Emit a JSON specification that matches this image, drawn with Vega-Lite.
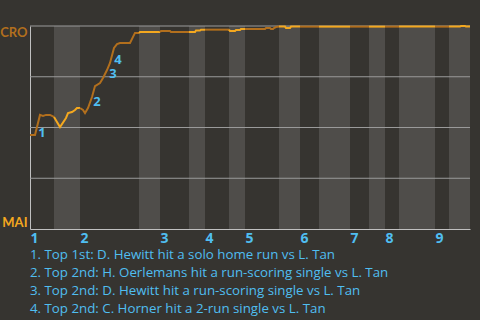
{
  "$schema": "https://vega.github.io/schema/vega-lite/v6.json",
  "width": 440,
  "height": 203,
  "autosize": {"type": "none"},
  "padding": {"left": 30, "top": 26, "right": 10, "bottom": 91},
  "background": "#363430",
  "config": {"view": {"stroke": null}, "font": "Lato"},
  "title": {
    "text": [
      "1. Top 1st: D. Hewitt hit a solo home run vs L. Tan",
      "2. Top 2nd: H. Oerlemans hit a run-scoring single vs L. Tan",
      "3. Top 2nd: D. Hewitt hit a run-scoring single vs L. Tan",
      "4. Top 2nd: C. Horner hit a 2-run single vs L. Tan"
    ],
    "orient": "bottom",
    "anchor": "start",
    "align": "left",
    "baseline": "top",
    "offset": 3,
    "frame": "group",
    "font": "Open Sans",
    "fontSize": 13.3,
    "fontWeight": "normal",
    "color": "#50bef0",
    "lineHeight": 18
  },
  "datasets": {
    "bands": [
      {"a": 24, "b": 50}, {"a": 109, "b": 130}, {"a": 159, "b": 175},
      {"a": 199, "b": 215}, {"a": 249, "b": 270}, {"a": 289, "b": 320},
      {"a": 339, "b": 355}, {"a": 369, "b": 405}, {"a": 419, "b": 440}
    ],
    "grid": [{"v": 0.25}, {"v": 0.5}, {"v": 0.75}, {"v": 1}],
    "wp": [
      {"s": "1T", "side": "top", "t": 0, "p": 0.463},
      {"s": "1T", "side": "top", "t": 5, "p": 0.463},
      {"s": "1T", "side": "top", "t": 10, "p": 0.562},
      {"s": "1T", "side": "top", "t": 13, "p": 0.557},
      {"s": "1T", "side": "top", "t": 16, "p": 0.562},
      {"s": "1T", "side": "top", "t": 20, "p": 0.562},
      {"s": "1T", "side": "top", "t": 24, "p": 0.552},
      {"s": "1B", "side": "bottom", "t": 24, "p": 0.552},
      {"s": "1B", "side": "bottom", "t": 30, "p": 0.502},
      {"s": "1B", "side": "bottom", "t": 36, "p": 0.547},
      {"s": "1B", "side": "bottom", "t": 38, "p": 0.571},
      {"s": "1B", "side": "bottom", "t": 42, "p": 0.576},
      {"s": "1B", "side": "bottom", "t": 45, "p": 0.586},
      {"s": "1B", "side": "bottom", "t": 47, "p": 0.596},
      {"s": "1B", "side": "bottom", "t": 50, "p": 0.596},
      {"s": "2T", "side": "top", "t": 50, "p": 0.596},
      {"s": "2T", "side": "top", "t": 53, "p": 0.586},
      {"s": "2T", "side": "top", "t": 55, "p": 0.571},
      {"s": "2T", "side": "top", "t": 58, "p": 0.596},
      {"s": "2T", "side": "top", "t": 62, "p": 0.65},
      {"s": "2T", "side": "top", "t": 65, "p": 0.704},
      {"s": "2T", "side": "top", "t": 70, "p": 0.719},
      {"s": "2T", "side": "top", "t": 73, "p": 0.744},
      {"s": "2T", "side": "top", "t": 77, "p": 0.783},
      {"s": "2T", "side": "top", "t": 80, "p": 0.818},
      {"s": "2T", "side": "top", "t": 84, "p": 0.892},
      {"s": "2T", "side": "top", "t": 87, "p": 0.911},
      {"s": "2T", "side": "top", "t": 90, "p": 0.916},
      {"s": "2T", "side": "top", "t": 100, "p": 0.916},
      {"s": "2T", "side": "top", "t": 105, "p": 0.966},
      {"s": "2T", "side": "top", "t": 109, "p": 0.966},
      {"s": "2B", "side": "bottom", "t": 109, "p": 0.966},
      {"s": "2B", "side": "bottom", "t": 110, "p": 0.97},
      {"s": "2B", "side": "bottom", "t": 130, "p": 0.97},
      {"s": "3T", "side": "top", "t": 130, "p": 0.97},
      {"s": "3T", "side": "top", "t": 131, "p": 0.975},
      {"s": "3T", "side": "top", "t": 140, "p": 0.975},
      {"s": "3T", "side": "top", "t": 141, "p": 0.97},
      {"s": "3T", "side": "top", "t": 159, "p": 0.97},
      {"s": "3B", "side": "bottom", "t": 159, "p": 0.97},
      {"s": "3B", "side": "bottom", "t": 165, "p": 0.97},
      {"s": "3B", "side": "bottom", "t": 166, "p": 0.978},
      {"s": "3B", "side": "bottom", "t": 170, "p": 0.978},
      {"s": "3B", "side": "bottom", "t": 171, "p": 0.982},
      {"s": "3B", "side": "bottom", "t": 175, "p": 0.982},
      {"s": "4T", "side": "top", "t": 175, "p": 0.982},
      {"s": "4T", "side": "top", "t": 199, "p": 0.982},
      {"s": "4B", "side": "bottom", "t": 199, "p": 0.982},
      {"s": "4B", "side": "bottom", "t": 200, "p": 0.975},
      {"s": "4B", "side": "bottom", "t": 205, "p": 0.975},
      {"s": "4B", "side": "bottom", "t": 206, "p": 0.98},
      {"s": "4B", "side": "bottom", "t": 210, "p": 0.98},
      {"s": "4B", "side": "bottom", "t": 211, "p": 0.985},
      {"s": "4B", "side": "bottom", "t": 215, "p": 0.985},
      {"s": "5T", "side": "top", "t": 215, "p": 0.985},
      {"s": "5T", "side": "top", "t": 235, "p": 0.985},
      {"s": "5T", "side": "top", "t": 236, "p": 0.99},
      {"s": "5T", "side": "top", "t": 240, "p": 0.99},
      {"s": "5T", "side": "top", "t": 241, "p": 0.985},
      {"s": "5T", "side": "top", "t": 243, "p": 0.985},
      {"s": "5T", "side": "top", "t": 244, "p": 0.99},
      {"s": "5T", "side": "top", "t": 246, "p": 0.995},
      {"s": "5T", "side": "top", "t": 249, "p": 0.997},
      {"s": "5B", "side": "bottom", "t": 249, "p": 0.997},
      {"s": "5B", "side": "bottom", "t": 255, "p": 0.997},
      {"s": "5B", "side": "bottom", "t": 256, "p": 0.99},
      {"s": "5B", "side": "bottom", "t": 260, "p": 0.99},
      {"s": "5B", "side": "bottom", "t": 261, "p": 0.997},
      {"s": "5B", "side": "bottom", "t": 270, "p": 0.997},
      {"s": "6T", "side": "top", "t": 270, "p": 0.997},
      {"s": "6T", "side": "top", "t": 289, "p": 0.997},
      {"s": "6B", "side": "bottom", "t": 289, "p": 0.997},
      {"s": "6B", "side": "bottom", "t": 320, "p": 0.997},
      {"s": "7T", "side": "top", "t": 320, "p": 0.997},
      {"s": "7T", "side": "top", "t": 339, "p": 0.997},
      {"s": "7B", "side": "bottom", "t": 339, "p": 0.997},
      {"s": "7B", "side": "bottom", "t": 355, "p": 0.997},
      {"s": "8T", "side": "top", "t": 355, "p": 0.997},
      {"s": "8T", "side": "top", "t": 369, "p": 0.997},
      {"s": "8B", "side": "bottom", "t": 369, "p": 0.997},
      {"s": "8B", "side": "bottom", "t": 405, "p": 0.997},
      {"s": "9T", "side": "top", "t": 405, "p": 0.997},
      {"s": "9T", "side": "top", "t": 419, "p": 0.997},
      {"s": "9B", "side": "bottom", "t": 419, "p": 0.997},
      {"s": "9B", "side": "bottom", "t": 430, "p": 0.997},
      {"s": "9B", "side": "bottom", "t": 431, "p": 1.0},
      {"s": "9B", "side": "bottom", "t": 435, "p": 1.0},
      {"s": "9B", "side": "bottom", "t": 436, "p": 0.997},
      {"s": "9B", "side": "bottom", "t": 440, "p": 0.997}
    ],
    "events": [
      {"n": "1", "t": 12, "p": 0.473},
      {"n": "2", "t": 67, "p": 0.626},
      {"n": "3", "t": 83, "p": 0.762},
      {"n": "4", "t": 88, "p": 0.834}
    ]
  },
  "layer": [
    {
      "data": {"name": "bands"},
      "mark": {"type": "rect", "color": "#4f4d4a"},
      "encoding": {
        "x": {
          "field": "a",
          "type": "quantitative",
          "scale": {"domain": [0, 440], "nice": false, "zero": false},
          "axis": {
            "title": null,
            "values": [0, 50, 130, 175, 215, 270, 320, 355, 405],
            "labelExpr": "indexof([0, 50, 130, 175, 215, 270, 320, 355, 405], datum.value) + 1",
            "ticks": false,
            "grid": false,
            "domainColor": "#c0c0c0",
            "labelAlign": "left",
            "labelBaseline": "top",
            "labelPadding": 2,
            "labelFont": "Open Sans",
            "labelFontSize": 14,
            "labelFontWeight": "bold",
            "labelColor": "#50bef0",
            "labelFlush": false,
            "labelOverlap": false
          }
        },
        "x2": {"field": "b"}
      }
    },
    {
      "data": {"name": "grid"},
      "mark": {"type": "rule", "color": "#9a9a9a", "strokeWidth": 1},
      "encoding": {
        "y": {
          "field": "v",
          "type": "quantitative",
          "scale": {"domain": [0, 1], "nice": false},
          "axis": {
            "title": null,
            "values": [0, 1],
            "labelExpr": "datum.value == 1 ? 'CRO' : 'MAI'",
            "ticks": false,
            "grid": false,
            "domainColor": "#c0c0c0",
            "labelFont": "Lato",
            "labelFontSize": 13,
            "labelFontWeight": "bold",
            "labelPadding": 3,
            "labelColor": {"condition": {"test": "datum.value == 1", "value": "#b26f1d"}, "value": "#f4a81f"},
            "labelBaseline": {"condition": {"test": "datum.value == 1", "value": "top"}, "value": "bottom"},
            "labelFlush": false
          }
        }
      }
    },
    {
      "data": {"name": "wp"},
      "mark": {"type": "line", "strokeWidth": 2, "interpolate": "linear"},
      "encoding": {
        "x": {"field": "t", "type": "quantitative"},
        "y": {"field": "p", "type": "quantitative"},
        "detail": {"field": "s"},
        "color": {
          "field": "side",
          "type": "nominal",
          "scale": {"domain": ["top", "bottom"], "range": ["#b26f1d", "#f4a81f"]},
          "legend": null
        }
      }
    },
    {
      "data": {"name": "events"},
      "mark": {"type": "text", "font": "Open Sans", "fontSize": 13, "fontWeight": "bold", "color": "#50bef0", "align": "center", "baseline": "middle"},
      "encoding": {
        "x": {"field": "t", "type": "quantitative"},
        "y": {"field": "p", "type": "quantitative"},
        "text": {"field": "n"}
      }
    }
  ]
}
